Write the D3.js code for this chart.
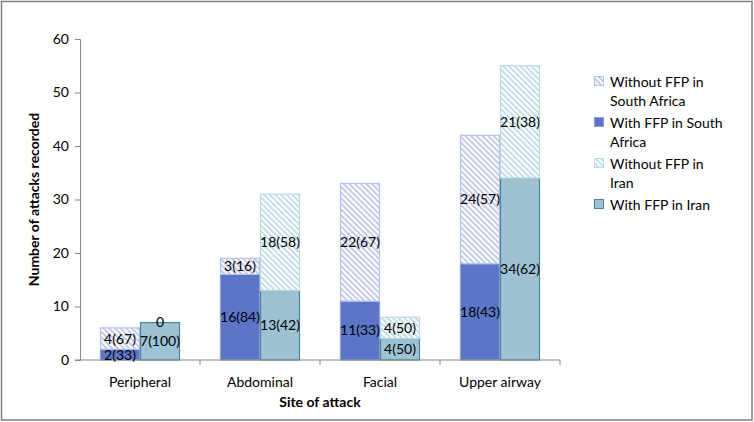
<!DOCTYPE html>
<html>
<head>
<meta charset="utf-8">
<script src="https://cdn.jsdelivr.net/npm/d3@7"></script>
<style>
  body { margin: 0; background: #fff; }
  text { font-family: Lato, "Open Sans", sans-serif; fill: #000; }
</style>
</head>
<body>
<script>
// Data
let sites = ["Peripheral", "Abdominal", "Facial", "Upper airway"];
let saWith = [2, 16, 11, 18];
let saWithout = [4, 3, 22, 24];
let irWith = [7, 13, 4, 34];
let irWithout = [0, 18, 4, 21];
let saWithLbl = ["2(33)", "16(84)", "11(33)", "18(43)"];
let saWithoutLbl = ["4(67)", "3(16)", "22(67)", "24(57)"];
let irWithLbl = ["7(100)", "13(42)", "4(50)", "34(62)"];
let irWithoutLbl = ["0", "18(58)", "4(50)", "21(38)"];
let yTicks = [0, 10, 20, 30, 40, 50, 60];
let legendItems = [
  { key: "saWithout", lines: ["Without FFP in", "South Africa"] },
  { key: "saWith", lines: ["With FFP in South", "Africa"] },
  { key: "irWithout", lines: ["Without FFP in", "Iran"] },
  { key: "irWith", lines: ["With FFP in Iran"] },
];

let width = 754;
let height = 422;
let margin = { top: 39, bottom: 62, left: 80, right: 194 };

let svg = d3
  .select("body")
  .append("svg")
  .attr("width", width)
  .attr("height", height);

// Hatch patterns (wide downward diagonal)
let defs = svg.append("defs");
function hatch(id, color) {
  let p = defs
    .append("pattern")
    .attr("id", id)
    .attr("patternUnits", "userSpaceOnUse")
    .attr("width", 4)
    .attr("height", 4)
    .attr("patternTransform", "rotate(-45)");
  p.append("rect").attr("width", 4).attr("height", 4).attr("fill", "#fff");
  p.append("rect").attr("width", 2).attr("height", 4).attr("fill", color);
}
hatch("hatchSA", "#c3cbe9");
hatch("hatchIR", "#c2dfe6");

let styles = {
  saWith: { fill: "#5b75c7", stroke: "#8a9cd9" },
  saWithout: { fill: "url(#hatchSA)", stroke: "#b7c0e6" },
  irWith: { fill: "#9cc2d3", stroke: "#4f8198" },
  irWithout: { fill: "url(#hatchIR)", stroke: "#b8dae2" },
};

// Outer frame
svg
  .append("rect")
  .attr("x", 1.5)
  .attr("y", 1.5)
  .attr("width", width - 3.5)
  .attr("height", height - 3.5)
  .attr("fill", "none")
  .attr("stroke", "#7f7f7f")
  .attr("stroke-width", 1.5);

let xScale = d3
  .scaleBand()
  .domain(sites)
  .range([margin.left, width - margin.right]);

let yScale = d3
  .scaleLinear()
  .domain([0, 60])
  .range([height - margin.bottom, margin.top]);

let barW = 40;

// Axes
let yAxis = svg
  .append("g")
  .attr("transform", `translate(${margin.left}, 0)`)
  .call(d3.axisLeft(yScale).tickValues(yTicks).tickSize(5).tickPadding(6));
yAxis.selectAll("path, line").attr("stroke", "#868686");
yAxis.selectAll("text").style("font-size", "14px");

let x0 = yScale(0);
let xAxis = svg.append("g");
xAxis
  .selectAll(".tk")
  .data(sites)
  .join("line")
  .attr("x1", (d) => xScale(d) + xScale.bandwidth())
  .attr("x2", (d) => xScale(d) + xScale.bandwidth())
  .attr("y1", x0)
  .attr("y2", x0 + 5)
  .attr("stroke", "#868686");
xAxis
  .selectAll(".cat")
  .data(sites)
  .join("text")
  .attr("x", (d) => xScale(d) + xScale.bandwidth() / 2)
  .attr("y", x0 + 27)
  .attr("text-anchor", "middle")
  .style("font-size", "14px")
  .text((d) => d);

// Axis titles
svg
  .append("text")
  .attr("x", margin.left + (width - margin.right - margin.left) / 2)
  .attr("y", 407)
  .attr("text-anchor", "middle")
  .style("font-size", "14px")
  .style("font-weight", "bold")
  .text("Site of attack");

svg
  .append("text")
  .attr("transform", `translate(39, ${yScale(30)}) rotate(-90)`)
  .attr("text-anchor", "middle")
  .style("font-size", "14px")
  .style("font-weight", "bold")
  .text("Number of attacks recorded");

// Build segments
let segs = [];
sites.forEach((s, i) => {
  let left = xScale(s) + xScale.bandwidth() / 2 - barW;
  segs.push({ key: "saWith", x: left, y0: 0, y1: saWith[i], lbl: saWithLbl[i] });
  segs.push({ key: "saWithout", x: left, y0: saWith[i], y1: saWith[i] + saWithout[i], lbl: saWithoutLbl[i] });
  segs.push({ key: "irWith", x: left + barW, y0: 0, y1: irWith[i], lbl: irWithLbl[i] });
  segs.push({ key: "irWithout", x: left + barW, y0: irWith[i], y1: irWith[i] + irWithout[i], lbl: irWithoutLbl[i] });
});

svg
  .selectAll(".seg")
  .data(segs.filter((d) => d.y1 > d.y0))
  .join("rect")
  .attr("x", (d) => d.x + 0.5)
  .attr("y", (d) => yScale(d.y1))
  .attr("width", barW - 1)
  .attr("height", (d) => yScale(d.y0) - yScale(d.y1))
  .attr("fill", (d) => styles[d.key].fill)
  .attr("stroke", (d) => styles[d.key].stroke)
  .attr("stroke-width", 1.2);

// X-axis baseline over bars
svg
  .append("line")
  .attr("x1", margin.left - 5)
  .attr("x2", width - margin.right)
  .attr("y1", x0)
  .attr("y2", x0)
  .attr("stroke", "#868686");

// Segment labels
svg
  .selectAll(".lbl")
  .data(segs)
  .join("text")
  .attr("x", (d) => d.x + barW / 2)
  .attr("y", (d) => yScale((d.y0 + d.y1) / 2))
  .attr("dy", "0.35em")
  .attr("text-anchor", "middle")
  .style("font-size", "14px")
  .text((d) => d.lbl);

// Legend
let ly = 82;
legendItems.forEach((item) => {
  let g = svg.append("g");
  g.append("rect")
    .attr("x", 594.5)
    .attr("y", ly - 5.5)
    .attr("width", 9)
    .attr("height", 9)
    .attr("fill", styles[item.key].fill)
    .attr("stroke", styles[item.key].stroke)
    .attr("stroke-width", 1);
  item.lines.forEach((ln, j) => {
    g.append("text")
      .attr("x", 610)
      .attr("y", ly + j * 19)
      .attr("dy", "0.35em")
      .style("font-size", "14px")
      .text(ln);
  });
  ly += (item.lines.length - 1) * 19 + 22;
});
</script>
</body>
</html>
